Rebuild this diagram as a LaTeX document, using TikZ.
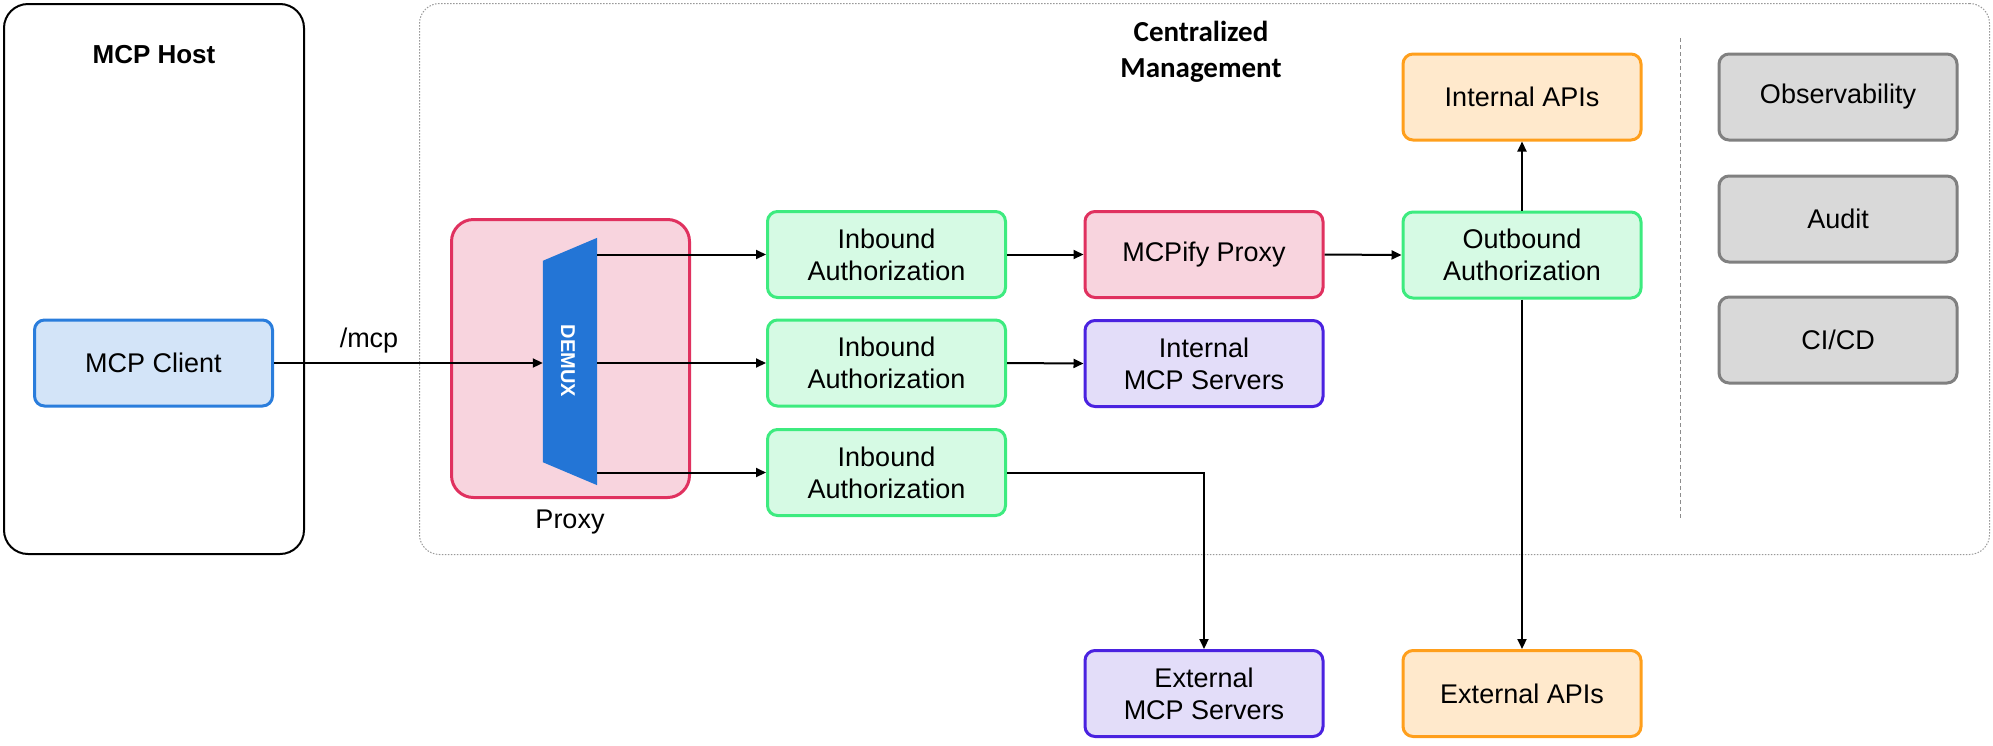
\documentclass[tikz,border=0pt]{standalone}
\usepackage{fontspec}
\setmainfont{Liberation Sans}
\newfontfamily\calfont{Carlito}
\usetikzlibrary{arrows.meta}
\definecolor{bluefill}{HTML}{D3E4F8}
\definecolor{bluedraw}{HTML}{2A7DDC}
\definecolor{greenfill}{HTML}{D6FAE4}
\definecolor{greendraw}{HTML}{3DEB7F}
\definecolor{pinkfill}{HTML}{F8D4DE}
\definecolor{pinkdraw}{HTML}{E0315F}
\definecolor{purplefill}{HTML}{E3DDF9}
\definecolor{purpledraw}{HTML}{4A22E0}
\definecolor{orangefill}{HTML}{FFE9CC}
\definecolor{orangedraw}{HTML}{FF9F1C}
\definecolor{grayfill}{HTML}{D9D9D9}
\definecolor{graydraw}{HTML}{808080}
\definecolor{demuxblue}{HTML}{2375D6}
\begin{document}
\begin{tikzpicture}[x=1pt,y=-1pt,
  txt/.style={font=\fontsize{27}{32}\selectfont, align=center, inner sep=0pt},
  box/.style={txt, draw, line width=3pt, rounded corners=10pt, minimum width=238pt, minimum height=86pt},
  bluebox/.style={box, fill=bluefill, draw=bluedraw},
  greenbox/.style={box, fill=greenfill, draw=greendraw},
  pinkbox/.style={box, fill=pinkfill, draw=pinkdraw},
  purplebox/.style={box, fill=purplefill, draw=purpledraw},
  orangebox/.style={box, fill=orangefill, draw=orangedraw},
  graybox/.style={box, fill=grayfill, draw=graydraw},
  conn/.style={line width=2pt, -{Triangle[length=10pt,width=9pt]}}
]
\useasboundingbox (0,0) rectangle (1993,745);

% MCP Host
\node[draw, line width=2pt, rounded corners=24pt, minimum width=300pt, minimum height=550pt, inner sep=0pt] (host) at (154,279) {};
\node[txt, font=\fontsize{26}{31}\selectfont\bfseries] (hosttitle) at (154,55) {MCP Host};
\node[bluebox] (client) at (153.5,363) {MCP Client};

% Centralized Management
\node[draw=gray!80, line width=1pt, dash pattern=on 1.5pt off 1.5pt, rounded corners=20pt, minimum width=1570pt, minimum height=551pt, inner sep=0pt] (cm) at (1204.5,279) {};
\node[txt, font=\fontsize{29}{36}\selectfont\calfont\bfseries] (cmtitle) at (1201,52) {Centralized\\Management};

% Proxy
\node[draw=pinkdraw, fill=pinkfill, line width=3pt, rounded corners=22pt, minimum width=238pt, minimum height=278pt, inner sep=0pt] (proxy) at (570.5,358.5) {};
\node[txt] (proxylabel) at (570,522) {Proxy};
\node[minimum width=54pt, minimum height=247pt, inner sep=0pt] (demux) at (570,361.5) {};
\fill[demuxblue] ([yshift=-23pt]demux.north west) -- (demux.north east) -- (demux.south east) -- ([yshift=23pt]demux.south west) -- cycle;
\node[txt, font=\fontsize{20}{24}\selectfont\bfseries, text=white, rotate=-90] (demuxtext) at (568,361) {DEMUX};

% Inbound
\node[greenbox] (in1) at (886.5,254.5) {Inbound\\Authorization};
\node[greenbox] (in2) at (886.5,363) {Inbound\\Authorization};
\node[greenbox] (in3) at (886.5,472.5) {Inbound\\Authorization};

\node[pinkbox] (mcpify) at (1204,254.5) {MCPify Proxy};
\node[purplebox] (intmcp) at (1204,363.5) {Internal\\MCP Servers};
\node[purplebox] (extmcp) at (1204,693.5) {External\\MCP Servers};

\node[greenbox] (outb) at (1522,255) {Outbound\\Authorization};
\node[orangebox] (intapi) at (1522,97) {Internal APIs};
\node[orangebox] (extapi) at (1522,693.5) {External APIs};

\node[graybox] (obs) at (1838,97) {Observability};
\node[graybox] (audit) at (1838,219) {Audit};
\node[graybox] (cicd) at (1838,340) {CI/CD};

% divider
\coordinate (divtop) at (1680,38);
\coordinate (divbot) at (1680,519);
\draw[gray!90, line width=1pt, dash pattern=on 4pt off 3pt] (divtop) -- (divbot);

% connectors
\node[txt] (mcplabel) at (369,341) {/mcp};
\draw[conn] (client.east) -- (client.east -| demux.west);
\draw[conn] (demux.east |- in1.west) -- (in1.west);
\draw[conn] (demux.east |- in2.west) -- (in2.west);
\draw[conn] (demux.east |- in3.west) -- (in3.west);
\draw[conn] (in1.east) -- (mcpify.west);
\draw[conn] (in2.east) -- (intmcp.west);
\draw[conn] (in3.east) -| (extmcp.north);
\draw[conn] (mcpify.east) -- (outb.west);
\draw[conn] (outb.north) -- (intapi.south);
\draw[conn] (outb.south) -- (extapi.north);
\end{tikzpicture}
\end{document}
